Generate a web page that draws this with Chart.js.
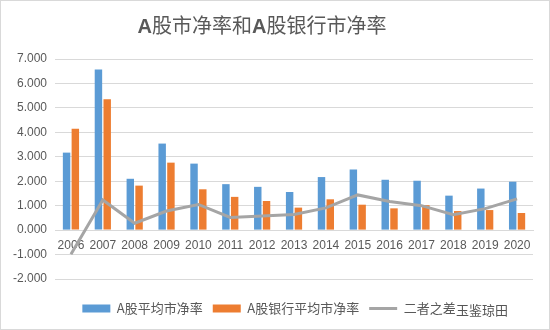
<!DOCTYPE html>
<html>
<head>
<meta charset="utf-8">
<script src="https://cdn.jsdelivr.net/npm/chart.js@4.4.1/dist/chart.umd.min.js"></script>
<style>
  body { margin: 0; background: #fff; }
  #wrap { position: relative; width: 550px; height: 330px; box-sizing: border-box; border: 1px solid #D9D9D9; }
  #title { position: absolute; left: 0; width: 522px; top: 9px; text-align: center; font: 20px "Noto Sans CJK SC", sans-serif; color: #595959; }
  #title b { font-family: "Liberation Sans", sans-serif; }
  #mark { position: absolute; left: 455px; top: 299px; font: 13px "Noto Sans CJK SC", sans-serif; color: #555; }
</style>
</head>
<body>
<div id="wrap">
  <canvas id="myChart" width="548" height="328"></canvas>
  <div id="title"><b>A</b>股市净率和<b>A</b>股银行市净率</div>
  <div id="mark">玉鉴琼田</div>
</div>
<script>
const years = ["2006", "2007", "2008", "2009", "2010", "2011", "2012", "2013", "2014", "2015", "2016", "2017", "2018", "2019", "2020"];
const aShare = [3.17, 6.57, 2.10, 3.54, 2.72, 1.88, 1.77, 1.56, 2.17, 2.48, 2.06, 2.02, 1.41, 1.70, 1.98];
const bankShare = [4.15, 5.35, 1.82, 2.76, 1.67, 1.36, 1.19, 0.92, 1.26, 1.04, 0.89, 1.02, 0.78, 0.82, 0.70];
const gap = [-0.99, 1.23, 0.28, 0.78, 1.05, 0.52, 0.58, 0.64, 0.91, 1.44, 1.17, 1.00, 0.63, 0.88, 1.28];
const seriesNames = ["A股平均市净率", "A股银行平均市净率", "二者之差"];

const grey = "#595959";

const myChart = new Chart(document.getElementById("myChart"), {
  type: "bar",
  data: {
    labels: years,
    datasets: [
      { label: seriesNames[0], data: aShare, backgroundColor: "#5B9BD5", pointStyle: "rect",
        categoryPercentage: 0.55, barPercentage: 0.85 },
      { label: seriesNames[1], data: bankShare, backgroundColor: "#ED7D31", pointStyle: "rect",
        categoryPercentage: 0.55, barPercentage: 0.85 },
      { type: "line", label: seriesNames[2], data: gap, borderColor: "#A5A5A5", backgroundColor: "#A5A5A5",
        borderWidth: 3, pointRadius: 0, pointStyle: "line", tension: 0, order: -1 },
    ],
  },
  options: {
    responsive: false,
    animation: false,
    layout: { padding: { top: 58, left: 4, right: 16, bottom: 4 } },
    plugins: {
      title: { display: false },
      tooltip: { enabled: false },
      legend: {
        position: "bottom",
        labels: {
          usePointStyle: true,
          pointStyleWidth: 28,
          boxHeight: 8,
          padding: 10,
          color: grey,
          font: { family: "'Noto Sans CJK SC', sans-serif", size: 13 },
          sort: (a, b) => a.datasetIndex - b.datasetIndex,
        },
      },
    },
    scales: {
      x: {
        position: { y: 0 },
        grid: { display: false, drawTicks: false },
        border: { display: true, color: "#D9D9D9" },
        ticks: { color: grey, padding: 8, maxRotation: 0, font: { family: "'Liberation Sans', sans-serif", size: 12 } },
      },
      // empty axis that only keeps a gap between the plot and the legend
      spacer: {
        type: "category",
        axis: "x",
        position: "bottom",
        grid: { display: false, drawTicks: false },
        border: { display: false },
        ticks: { display: false },
        afterFit: (s) => { s.height = 13; },
      },
      y: {
        min: -2,
        max: 7,
        ticks: {
          stepSize: 1,
          color: grey,
          padding: 8,
          font: { family: "'Liberation Sans', sans-serif", size: 12 },
          callback: (v) => v.toFixed(3),
        },
        grid: { color: "#D9D9D9", drawTicks: false },
        border: { display: false },
      },
    },
  },
});
</script>
</body>
</html>
